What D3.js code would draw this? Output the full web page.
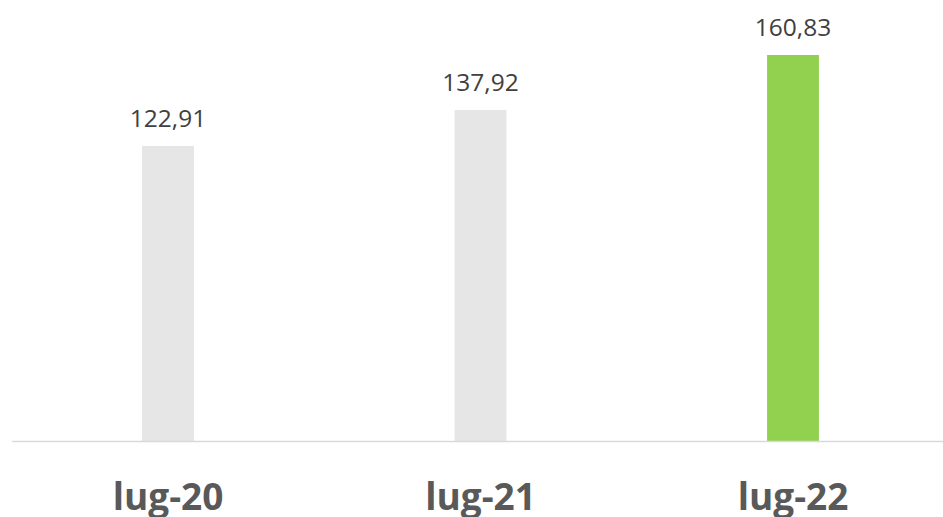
<!DOCTYPE html>
<html>
<head>
<meta charset="utf-8">
<script src="https://cdn.jsdelivr.net/npm/d3@7"></script>
<style>
  body { margin: 0; background: #fff; }
  svg { display: block; }
</style>
</head>
<body>
<div id="chart"></div>
<script>
// data
const categories = ["lug-20", "lug-21", "lug-22"];
const values = [122.91, 137.92, 160.83];
const barColors = ["#e6e6e6", "#e6e6e6", "#92d050"];

const width = 943, height = 517;
const baseline = 441;

const svg = d3.select("#chart").append("svg")
    .attr("width", width)
    .attr("height", height);

// three equal bands, bars narrow in the middle
const x = d3.scaleBand()
    .domain(categories)
    .range([11.75, 949.25])
    .paddingInner(0.834)
    .paddingOuter(0.417);

const y = d3.scaleLinear()
    .domain([0, 180])
    .range([baseline, 9]);

const fmt = v => d3.format(".2f")(v).replace(".", ",");

// bars
svg.append("g")
  .selectAll("rect")
  .data(values)
  .join("rect")
    .attr("x", (d, i) => x(categories[i]))
    .attr("y", d => y(d))
    .attr("width", x.bandwidth())
    .attr("height", d => y(0) - y(d))
    .attr("fill", (d, i) => barColors[i]);

// baseline
svg.append("line")
    .attr("x1", 12).attr("x2", width)
    .attr("y1", baseline + 0.5).attr("y2", baseline + 0.5)
    .attr("stroke", "#d9d9d9")
    .attr("stroke-width", 1.5);

// value labels
svg.append("g")
  .selectAll("text")
  .data(values)
  .join("text")
    .attr("x", (d, i) => x(categories[i]) + x.bandwidth() / 2)
    .attr("y", d => y(d) - 19)
    .attr("text-anchor", "middle")
    .attr("font-family", "'Open Sans', sans-serif")
    .attr("font-size", 24.5)
    .attr("fill", "#404040")
    .text(d => fmt(d));

// category labels
const xAxis = svg.append("g")
    .attr("transform", `translate(0,${baseline})`)
    .call(d3.axisBottom(x).tickSize(0).tickPadding(0));
xAxis.select(".domain").remove();
xAxis.selectAll("text")
    .attr("dy", null)
    .attr("y", 69)
    .attr("font-family", "'Open Sans', sans-serif")
    .attr("font-size", 37)
    .attr("font-weight", "bold")
    .attr("fill", "#595959");
</script>
</body>
</html>
